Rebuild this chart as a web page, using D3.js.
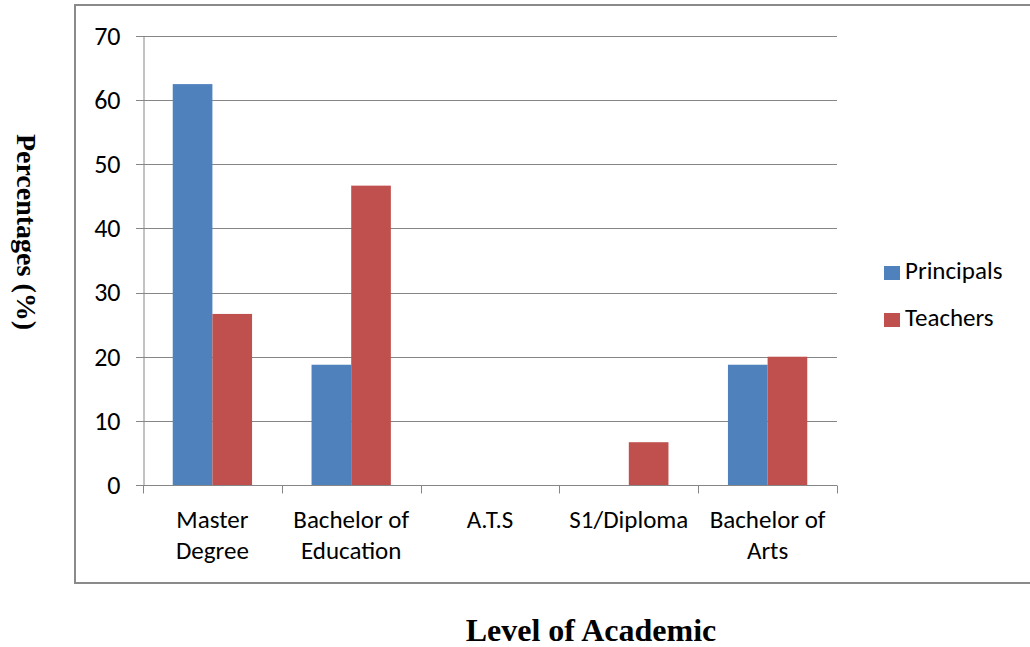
<!DOCTYPE html>
<html>
<head>
<meta charset="utf-8">
<script src="https://cdn.jsdelivr.net/npm/d3@7"></script>
<style>
  body { margin: 0; background: #fff; }
  svg { display: block; }
</style>
</head>
<body>
<div class="chart"></div>
<script>
const categories = ['Master Degree', 'Bachelor of Education', 'A.T.S', 'S1/Diploma', 'Bachelor of Arts'];
const categoryLines = [['Master', 'Degree'], ['Bachelor of', 'Education'], ['A.T.S'], ['S1/Diploma'], ['Bachelor of', 'Arts']];
const seriesNames = ['Principals', 'Teachers'];
const principals = [62.5, 18.75, 0, 0, 18.75];
const teachers = [26.67, 46.67, 0, 6.67, 20];
const yTicks = [0, 10, 20, 30, 40, 50, 60, 70];
const colors = ['#4f81bd', '#c0504d'];

const labelFont = 'Carlito, Calibri, Lato, sans-serif';
const titleFont = '"Liberation Serif", "Times New Roman", serif';

const width = 1030, height = 647;
const svg = d3.select('.chart')
  .append('svg')
  .attr('width', width)
  .attr('height', height);

// chart frame
svg.append('rect')
  .attr('x', 75).attr('y', 5)
  .attr('width', 970).attr('height', 578)
  .attr('fill', 'none')
  .attr('stroke', '#8a8a8a')
  .attr('stroke-width', 2);

const x = d3.scaleBand()
  .domain(categories)
  .range([143, 837])
  .paddingInner(0).paddingOuter(0);

const xs = d3.scaleBand()
  .domain(seriesNames)
  .range([0, x.bandwidth()])
  .paddingInner(0).paddingOuter(0.75);

const y = d3.scaleLinear()
  .domain([0, 70])
  .range([485, 36]);

// gridlines
svg.append('g')
  .selectAll('line')
  .data(yTicks)
  .enter()
  .append('line')
  .attr('x1', 136).attr('x2', 837)
  .attr('y1', d => Math.round(y(d)) + 0.5)
  .attr('y2', d => Math.round(y(d)) + 0.5)
  .attr('stroke', '#868686')
  .attr('stroke-width', 1);

// y axis
const yAxis = d3.axisLeft(y)
  .tickValues(yTicks)
  .tickSize(0)
  .tickPadding(23);

const yAxisGroup = svg.append('g')
  .attr('transform', 'translate(143.5,0)')
  .call(yAxis);
yAxisGroup.select('.domain').attr('stroke', '#868686');
yAxisGroup.selectAll('text')
  .attr('font-family', labelFont)
  .attr('font-size', '26px')
  .attr('fill', '#000');

// bars
const rows = categories.map((c, i) => ({ cat: c, vals: [principals[i], teachers[i]] }));
const groups = svg.append('g')
  .selectAll('g')
  .data(rows)
  .enter()
  .append('g')
  .attr('transform', d => 'translate(' + x(d.cat) + ',0)');

groups.selectAll('rect')
  .data(d => d.vals.map((v, j) => ({ name: seriesNames[j], v: v, j: j })))
  .enter()
  .append('rect')
  .attr('x', d => xs(d.name))
  .attr('width', xs.bandwidth())
  .attr('y', d => y(d.v))
  .attr('height', d => y(0) - y(d.v))
  .attr('fill', d => colors[d.j]);

// x axis
const xAxisGroup = svg.append('g')
  .attr('transform', 'translate(0,' + (Math.round(y(0)) + 0.5) + ')');
xAxisGroup.append('line')
  .attr('x1', 143).attr('x2', 837)
  .attr('stroke', '#868686');
const boundaries = categories.map(c => x(c)).concat([x.range()[1]]);
xAxisGroup.selectAll('.tick')
  .data(boundaries)
  .enter()
  .append('line')
  .attr('class', 'tick')
  .attr('x1', d => Math.round(d) + 0.5).attr('x2', d => Math.round(d) + 0.5)
  .attr('y1', 0).attr('y2', 8)
  .attr('stroke', '#868686');

const labels = svg.append('g')
  .selectAll('text')
  .data(categories)
  .enter()
  .append('text')
  .attr('font-family', labelFont)
  .attr('font-size', '25px')
  .attr('fill', '#000')
  .attr('text-anchor', 'middle');
labels.each(function (d, i) {
  d3.select(this).selectAll('tspan')
    .data(categoryLines[i])
    .enter()
    .append('tspan')
    .attr('x', x(d) + x.bandwidth() / 2)
    .attr('y', (t, k) => 528 + k * 31)
    .text(t => t);
});

// legend
const legend = svg.append('g')
  .selectAll('g')
  .data(seriesNames)
  .enter()
  .append('g')
  .attr('transform', (d, i) => 'translate(884,' + (266 + i * 47) + ')');
legend.append('rect')
  .attr('width', 16).attr('height', 14)
  .attr('fill', (d, i) => colors[i]);
legend.append('text')
  .attr('x', 21).attr('y', 13)
  .attr('font-family', labelFont)
  .attr('font-size', '25px')
  .attr('fill', '#000')
  .text(d => d);

// axis titles
svg.append('text')
  .attr('transform', 'translate(17,232) rotate(90)')
  .attr('text-anchor', 'middle')
  .attr('font-family', titleFont)
  .attr('font-weight', 'bold')
  .attr('font-size', '28px')
  .text('Percentages (%)');

svg.append('text')
  .attr('x', 591).attr('y', 641)
  .attr('text-anchor', 'middle')
  .attr('font-family', titleFont)
  .attr('font-weight', 'bold')
  .attr('font-size', '32px')
  .text('Level of Academic');
</script>
</body>
</html>
